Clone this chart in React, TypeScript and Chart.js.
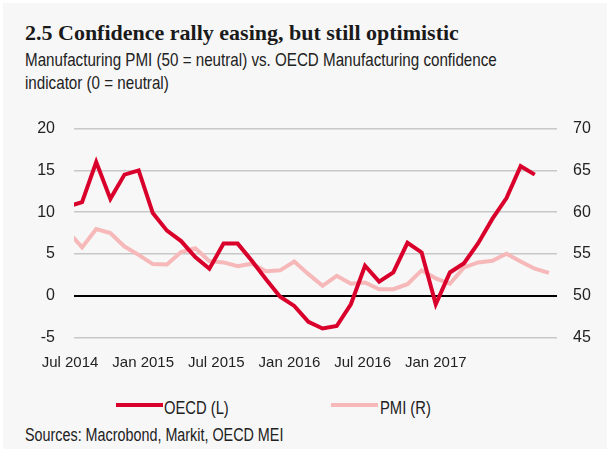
import React, { useEffect, useRef } from "react";
import { Chart, registerables } from "chart.js";

Chart.register(...registerables);

// ---- data ----
const xTickLabels = ["Jul 2014", "Jan 2015", "Jul 2015", "Jan 2016", "Jul 2016", "Jan 2017"];
const xTickPositions = [0.15, 5.32, 10.49, 15.66, 20.83, 26.0];

const oecdValues = [
  10.7, 11.2, 16.0, 11.6, 14.5, 15.0, 9.9, 7.8, 6.55, 4.65,
  3.25, 6.25, 6.25, 4.2, 2.0, -0.1, -1.2, -3.1, -3.9, -3.6,
  -1.0, 3.6, 1.7, 2.8, 6.35, 5.2, -1.0, 2.8, 3.9, 6.3,
  9.2, 11.7, 15.5, 14.5,
];

const pmiValues = [
  57.7, 55.8, 58.0, 57.5, 55.9, 54.9, 53.8, 53.75, 55.25, 55.7,
  54.15, 54.0, 53.55, 53.85, 52.95, 53.05, 54.1, 52.6, 51.2, 52.4,
  51.45, 51.6, 50.8, 50.8, 51.4, 53.05, 52.1, 51.45, 53.4, 54.0,
  54.2, 55.05, 54.1, 53.25, 52.75,
];

const leftMin = -5;
const leftMax = 20;
const rightMin = 45;
const rightMax = 70;

const SANS = "'Liberation Sans', Arial, sans-serif";
const SERIF = "'Liberation Serif', 'DejaVu Serif', serif";
const RED = "#d9002b";
const PINK = "#f6b8b8";

function Narrow(props: { left: number; top: number; size: number; lh: number; children: any }) {
  return (
    <div
      style={{
        position: "absolute",
        left: props.left,
        top: props.top,
        fontFamily: SANS,
        fontSize: props.size,
        lineHeight: props.lh + "px",
        color: "#222",
        whiteSpace: "nowrap",
        transform: "scaleX(0.82)",
        transformOrigin: "0 0",
      }}
    >
      {props.children}
    </div>
  );
}

export default function App() {
  const ref = useRef<HTMLCanvasElement | null>(null);

  useEffect(() => {
    if (!ref.current) return;
    const chart = new Chart(ref.current, {
      type: "line",
      data: {
        datasets: [
          {
            label: "OECD (L)",
            data: oecdValues.map((v, i) => ({ x: i, y: v })),
            borderColor: RED,
            backgroundColor: RED,
            borderWidth: 4,
            pointRadius: 0,
            tension: 0,
            yAxisID: "yL",
            clip: 0,
          },
          {
            label: "PMI (R)",
            data: pmiValues.map((v, i) => ({ x: i, y: v })),
            borderColor: PINK,
            backgroundColor: PINK,
            borderWidth: 4,
            pointRadius: 0,
            tension: 0,
            yAxisID: "yR",
            clip: 0,
          },
        ],
      },
      options: {
        animation: false,
        responsive: false,
        maintainAspectRatio: false,
        layout: { padding: { top: 21.7, left: 0, right: 0, bottom: 0 } },
        plugins: { legend: { display: false }, tooltip: { enabled: false } },
        scales: {
          x: {
            type: "linear",
            min: 0.43,
            max: 34.57,
            grid: { display: false, drawTicks: false },
            border: { display: false },
            afterBuildTicks: (scale: any) => {
              scale.ticks = xTickPositions.map((v) => ({ value: v }));
            },
            afterFit: (scale: any) => {
              scale.height = 42.3;
            },
            ticks: {
              autoSkip: false,
              maxRotation: 0,
              minRotation: 0,
              padding: 16,
              color: "#222",
              font: { family: SANS, size: 15 },
              callback: (_v: any, i: number) => xTickLabels[i],
            },
          },
          yL: {
            type: "linear",
            position: "left",
            min: leftMin,
            max: leftMax,
            afterFit: (scale: any) => {
              scale.width = 74;
            },
            border: { display: false },
            grid: {
              drawTicks: false,
              color: (ctx: any) => (ctx.tick && ctx.tick.value === 0 ? "#000000" : "#c8c8c8"),
              lineWidth: (ctx: any) => (ctx.tick && ctx.tick.value === 0 ? 2 : 1.5),
            },
            ticks: {
              stepSize: 5,
              padding: 19,
              color: "#222",
              font: { family: SANS, size: 16 },
            },
          },
          yR: {
            type: "linear",
            position: "right",
            min: rightMin,
            max: rightMax,
            afterFit: (scale: any) => {
              scale.width = 50;
            },
            border: { display: false },
            grid: { display: false, drawTicks: false },
            ticks: {
              stepSize: 5,
              padding: 16,
              color: "#222",
              font: { family: SANS, size: 16 },
            },
          },
        },
      },
    });
    return () => chart.destroy();
  }, []);

  return (
    <div style={{ position: "absolute", left: 0, top: 0, width: 607, height: 449, background: "#ffffff", overflow: "hidden" }}>
      <div style={{ position: "absolute", left: 3, top: 3, width: 604, height: 446, background: "#f7f7f7" }} />
      <div
        style={{
          position: "absolute",
          left: 25,
          top: 21.6,
          fontFamily: SERIF,
          fontWeight: "bold",
          fontSize: 22,
          lineHeight: "22px",
          color: "#1a1a1a",
          whiteSpace: "nowrap",
        }}
      >
        2.5 Confidence rally easing, but still optimistic
      </div>
      <Narrow left={25} top={47.8} size={18.5} lh={23}>
        Manufacturing PMI (50 = neutral) vs. OECD Manufacturing confidence
        <br />
        indicator (0 = neutral)
      </Narrow>
      <canvas
        ref={ref}
        width={607}
        height={280}
        style={{ position: "absolute", left: 0, top: 100, width: 607, height: 280 }}
      />
      <div style={{ position: "absolute", left: 116, top: 403, width: 47, height: 4, background: RED }} />
      <Narrow left={164} top={397.7} size={18} lh={20}>
        OECD (L)
      </Narrow>
      <div style={{ position: "absolute", left: 331, top: 403, width: 47, height: 4, background: PINK }} />
      <Narrow left={380} top={397.7} size={18} lh={20}>
        PMI (R)
      </Narrow>
      <Narrow left={25} top={424.6} size={17.5} lh={20}>
        Sources: Macrobond, Markit, OECD MEI
      </Narrow>
    </div>
  );
}
